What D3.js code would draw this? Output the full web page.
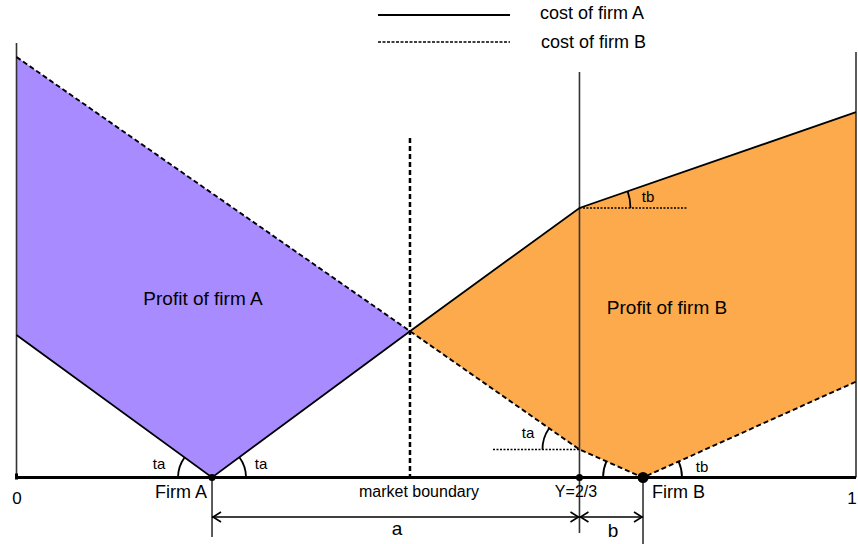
<!DOCTYPE html>
<html>
<head>
<meta charset="utf-8">
<script src="https://cdn.jsdelivr.net/npm/d3@7"></script>
<style>
  html, body { margin: 0; padding: 0; background: #fff; }
  svg { display: block; font-family: "Liberation Sans", Arial, Helvetica, sans-serif; }
</style>
</head>
<body>
<svg id="chart" width="858" height="544"></svg>
<script>
// ---- data ----
const positions = { firmA: 0.2329, boundary: 0.4687, Y: 0.6706, firmB: 0.7463 };
const costAx = [0, 0.2329, 0.4687, 0.6706, 1];
const costAy = [0.339, 0, 0.348, 0.641, 0.869];
const costBx = [0, 0.4687, 0.6706, 0.7463, 1];
const costBy = [1.0, 0.348, 0.0666, 0, 0.228];
const legendLabels = ["cost of firm A", "cost of firm B"];
const axisLabels = ["0", "1"];

// ---- layout ----
const svg = d3.select("#chart");
const x = d3.scaleLinear().domain([0, 1]).range([16.5, 856]);
const y = d3.scaleLinear().domain([0, 1]).range([477.5, 57]);

const costA = costAx.map((v, i) => [v, costAy[i]]);
const costB = costBx.map((v, i) => [v, costBy[i]]);
const line = d3.line().x(d => x(d[0])).y(d => y(d[1]));

// fills
const purple = costB.filter(d => d[0] <= positions.boundary)
  .concat(costA.filter(d => d[0] <= positions.boundary).reverse());
const orange = costA.filter(d => d[0] >= positions.boundary)
  .concat(costB.filter(d => d[0] >= positions.boundary).reverse());
svg.append("path").attr("d", line(purple) + "Z").attr("fill", "#a88cff");
svg.append("path").attr("d", line(orange) + "Z").attr("fill", "#fcaa4b");

// vertical axes
svg.append("line").attr("x1", x(0)).attr("x2", x(0)).attr("y1", 43).attr("y2", y(0))
  .attr("stroke", "#333").attr("stroke-width", 1.6);
svg.append("line").attr("x1", x(1)).attr("x2", x(1)).attr("y1", 52).attr("y2", y(0))
  .attr("stroke", "#333").attr("stroke-width", 1.6);

// Y=2/3 vertical line
svg.append("line").attr("x1", x(positions.Y)).attr("x2", x(positions.Y)).attr("y1", 72).attr("y2", 533)
  .attr("stroke", "#333").attr("stroke-width", 1.6);
// firm verticals below baseline
svg.append("line").attr("x1", x(positions.firmA)).attr("x2", x(positions.firmA)).attr("y1", y(0)).attr("y2", 537)
  .attr("stroke", "#333").attr("stroke-width", 1.6);
svg.append("line").attr("x1", x(positions.firmB)).attr("x2", x(positions.firmB)).attr("y1", y(0)).attr("y2", 544)
  .attr("stroke", "#333").attr("stroke-width", 1.6);

// market boundary
svg.append("line").attr("x1", x(positions.boundary)).attr("x2", x(positions.boundary))
  .attr("y1", 138).attr("y2", y(0))
  .attr("stroke", "#000").attr("stroke-width", 2.5).attr("stroke-dasharray", "5,3");

// helper dotted horizontals
const yAtB_Y = y(costBy[2]);
svg.append("line").attr("x1", 493).attr("x2", x(positions.Y)).attr("y1", yAtB_Y).attr("y2", yAtB_Y)
  .attr("stroke", "#000").attr("stroke-width", 1.4).attr("stroke-dasharray", "2,1.5");
const yAtA_Y = y(costAy[3]);
svg.append("line").attr("x1", x(positions.Y)).attr("x2", 688).attr("y1", yAtA_Y).attr("y2", yAtA_Y)
  .attr("stroke", "#000").attr("stroke-width", 1.4).attr("stroke-dasharray", "2,1.5");

// cost lines
svg.append("path").attr("d", line(costB)).attr("fill", "none").attr("stroke", "#000")
  .attr("stroke-width", 1.9).attr("stroke-dasharray", "5,3");
svg.append("path").attr("d", line(costA)).attr("fill", "none").attr("stroke", "#000")
  .attr("stroke-width", 1.8);

// baseline
svg.append("line").attr("x1", x(0)).attr("x2", x(1)).attr("y1", y(0)).attr("y2", y(0))
  .attr("stroke", "#000").attr("stroke-width", 2.8);

// angle arcs
function angleArc(cx, cy, r, dir0, pt) {
  const dx = pt[0] - cx, dy = pt[1] - cy, len = Math.hypot(dx, dy);
  const sx = cx + dir0 * r, sy = cy;
  const ex = cx + dx / len * r, ey = cy + dy / len * r;
  const sweep = dir0 < 0 ? 1 : 0;
  return `M${sx},${sy} A${r},${r} 0 0 ${sweep} ${ex},${ey}`;
}
function arcPath(d) {
  svg.append("path").attr("d", d).attr("fill", "none").attr("stroke", "#000").attr("stroke-width", 1.8);
}
const pA = [x(positions.firmA), y(0)];
arcPath(angleArc(pA[0], pA[1], 34, -1, [x(costAx[0]), y(costAy[0])]));
arcPath(angleArc(pA[0], pA[1], 34, 1, [x(costAx[2]), y(costAy[2])]));
const pBY = [x(positions.Y), yAtB_Y];
arcPath(angleArc(pBY[0], pBY[1], 37, -1, [x(costBx[1]), y(costBy[1])]));
const pB = [x(positions.firmB), y(0)];
arcPath(angleArc(pB[0], pB[1], 40, -1, [x(costBx[2]), y(costBy[2])]));
arcPath(angleArc(pB[0], pB[1], 39, 1, [x(costBx[4]), y(costBy[4])]));
const pAY = [x(positions.Y), yAtA_Y];
arcPath(angleArc(pAY[0], pAY[1], 51, 1, [x(costAx[4]), y(costAy[4])]));

// dots
svg.append("circle").attr("cx", pA[0]).attr("cy", y(0)).attr("r", 3.5).attr("fill", "#000");
svg.append("circle").attr("cx", x(positions.Y)).attr("cy", y(0)).attr("r", 3.5).attr("fill", "#000");
svg.append("circle").attr("cx", pB[0]).attr("cy", y(0)).attr("r", 5.5).attr("fill", "#000");
svg.append("rect").attr("x", x(0) - 1.5).attr("y", y(0) - 4).attr("width", 3).attr("height", 6).attr("fill", "#000");

// dimension arrows
function dimArrow(x1, x2, yy) {
  svg.append("line").attr("x1", x1).attr("x2", x2).attr("y1", yy).attr("y2", yy)
    .attr("stroke", "#000").attr("stroke-width", 1.6);
  const h = 9, w = 5;
  svg.append("path").attr("d", `M${x1 + h},${yy - w} L${x1 + 1},${yy} L${x1 + h},${yy + w}`)
    .attr("fill", "none").attr("stroke", "#000").attr("stroke-width", 1.6);
  svg.append("path").attr("d", `M${x2 - h},${yy - w} L${x2 - 1},${yy} L${x2 - h},${yy + w}`)
    .attr("fill", "none").attr("stroke", "#000").attr("stroke-width", 1.6);
}
dimArrow(x(positions.firmA), x(positions.Y), 517);
dimArrow(x(positions.Y), x(positions.firmB), 517);

// text
function txt(s, tx, ty, size, anchor) {
  svg.append("text").attr("x", tx).attr("y", ty).attr("font-size", size)
    .attr("text-anchor", anchor || "middle").attr("fill", "#000").text(s);
}
txt(axisLabels[0], 17, 504, 17);
txt(axisLabels[1], 852, 504, 17);
txt("Firm A", 207, 498, 18, "end");
txt("market boundary", 419, 497, 16);
txt("Y=2/3", 576, 497, 16);
txt("Firm B", 652, 498, 18, "start");
txt("a", 397, 535, 19);
txt("b", 613, 537, 19);
txt("Profit of firm A", 203, 305, 19);
txt("Profit of firm B", 667, 314, 19);
txt("ta", 159, 469, 15);
txt("ta", 261, 469, 15);
txt("ta", 528, 438, 15);
txt("tb", 648, 202, 15);
txt("tb", 702, 472, 15);

// legend
svg.append("line").attr("x1", 378).attr("x2", 510).attr("y1", 15).attr("y2", 15)
  .attr("stroke", "#000").attr("stroke-width", 2);
svg.append("line").attr("x1", 378).attr("x2", 510).attr("y1", 42).attr("y2", 42)
  .attr("stroke", "#000").attr("stroke-width", 1.6).attr("stroke-dasharray", "3,1.5");
txt(legendLabels[0], 540, 19, 18, "start");
txt(legendLabels[1], 541, 48, 18, "start");
</script>
</body>
</html>
